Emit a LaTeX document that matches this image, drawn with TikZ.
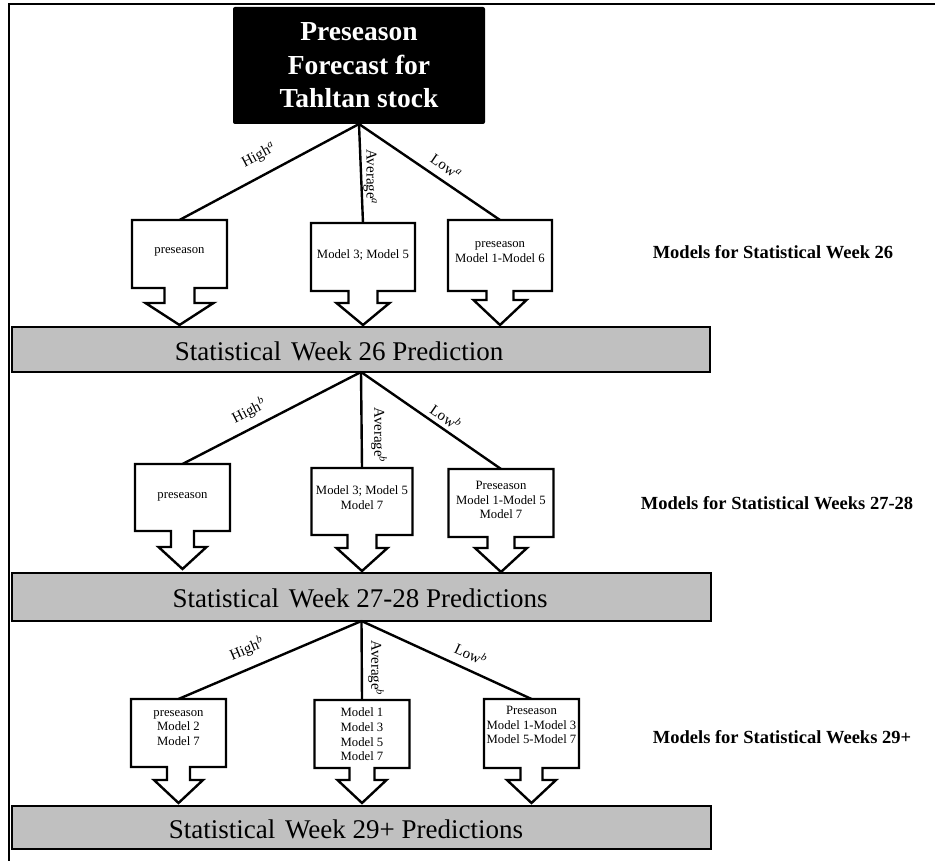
\documentclass[tikz,border=0pt]{standalone}
\usepackage{fontspec}
\setmainfont{Liberation Serif}
\usetikzlibrary{calc}
\definecolor{bargray}{RGB}{192,192,192}
\newcommand\callout[5]{%
  \draw[outline] (#1.south west) -- (#1.north west) -- (#1.north east) -- (#1.south east)
   -- ($(#1.south)+(#2pt,0pt)$) -- ($(#1.south)+(#2pt,-#4pt)$) -- ($(#1.south)+(#3pt,-#4pt)$)
   -- ($(#1.south)+(0pt,-#4pt-#5pt)$) -- ($(#1.south)+(-#3pt,-#4pt)$) -- ($(#1.south)+(-#2pt,-#4pt)$)
   -- ($(#1.south)+(-#2pt,0pt)$) -- cycle;}
\tikzset{
  outline/.style={line width=2.4pt, line join=miter, fill=white},
  conn/.style={line width=2.4pt},
  cbox/.style={rectangle, inner sep=0pt, outer sep=0pt, draw=none},
  ctext/.style={align=center, inner sep=0pt, font=\fontsize{12.7}{14.7}\selectfont},
  bar/.style={rectangle, draw, line width=2.4pt, fill=bargray, inner sep=0pt, outer sep=0pt},
  bartext/.style={inner sep=0pt, font=\fontsize{27}{30}\selectfont},
  lbl/.style={inner sep=0pt, font=\fontsize{15}{16}\selectfont},
  side/.style={inner sep=0pt, font=\fontsize{18.5}{20}\selectfont\bfseries},
}
\begin{document}
\begin{tikzpicture}[x=1pt,y=-1pt]
\useasboundingbox (0,0) rectangle (935,861);
% frame
\draw[line width=2pt] (8.5,861) -- (8.5,4) -- (935,4);
% top box
\node[rectangle, fill=black, rounded corners=2pt, inner sep=0pt, outer sep=0pt,
      minimum width=252pt, minimum height=117pt, text=white, align=center,
      font=\fontsize{27.5}{33.5}\selectfont\bfseries] (top) at (359,65.5)
      {Preseason\\Forecast for\\Tahltan stock};
% bars
\node[bar, minimum width=698pt, minimum height=45pt] (B1) at (361,349.5) {};
\node[bar, minimum width=699pt, minimum height=48pt] (B2) at (361.5,597) {};
\node[bar, minimum width=699pt, minimum height=43pt] (B3) at (361.5,827.5) {};
\node[bartext] (B1t) at (339,351) {Statistical\hspace{3pt} Week 26 Prediction};
\node[bartext] (B2t) at (360,598) {Statistical\hspace{3pt} Week 27-28 Predictions};
\node[bartext] (B3t) at (346,829) {Statistical\hspace{3pt} Week 29+ Predictions};
% row 1 boxes
\node[cbox, minimum width=95pt, minimum height=68pt] (L1) at (179.5,254) {};
\node[cbox, minimum width=104pt, minimum height=68pt] (M1) at (363,257) {};
\node[cbox, minimum width=104pt, minimum height=71pt] (R1) at (500,255.5) {};
% row 2 boxes
\node[cbox, minimum width=95pt, minimum height=67pt] (L2) at (182.5,497.5) {};
\node[cbox, minimum width=101pt, minimum height=67pt] (M2) at (362,501.5) {};
\node[cbox, minimum width=105pt, minimum height=68pt] (R2) at (501,503) {};
% row 3 boxes
\node[cbox, minimum width=95pt, minimum height=68pt] (L3) at (178.5,733) {};
\node[cbox, minimum width=95pt, minimum height=68pt] (M3) at (362,734) {};
\node[cbox, minimum width=95pt, minimum height=69pt] (R3) at (531.5,733.5) {};
% connectors
\draw[conn] (top.south) -- (L1.north);
\draw[conn] (top.south) -- (M1.north);
\draw[conn] (top.south) -- (R1.north);
\draw[conn] (B1.south) -- (L2.north);
\draw[conn] (B1.south) -- (M2.north);
\draw[conn] (B1.south) -- (R2.north);
\draw[conn] (B2.south) -- (L3.north);
\draw[conn] (B2.south) -- (M3.north);
\draw[conn] (B2.south) -- (R3.north);
% callout outlines
\callout{L1}{15}{34}{15}{22}
\callout{M1}{14.5}{26.5}{12}{22}
\callout{R1}{13.5}{26.5}{9}{25}
\callout{L2}{11.5}{24}{16}{22}
\callout{M2}{14.5}{25.5}{13}{23}
\callout{R2}{13.5}{26}{11}{24}
\callout{L3}{11.5}{24.5}{13}{23}
\callout{M3}{12.5}{24.5}{12}{23}
\callout{R3}{11}{24.5}{12}{23}
% callout texts
\node[ctext] (L1t) at (179.5,252) {preseason};
\node[ctext] (M1t) at (363,255) {Model 3; Model 5};
\node[ctext] (R1t) at (500,252) {preseason\\Model 1-Model 6};
\node[ctext] (L2t) at (182.5,497) {preseason};
\node[ctext] (M2t) at (362,498) {Model 3; Model 5\\Model 7};
\node[ctext] (R2t) at (501,500) {Preseason\\Model 1-Model 5\\Model 7};
\node[ctext] (L3t) at (178.5,728) {preseason\\Model 2\\Model 7};
\node[ctext] (M3t) at (362,734.5) {Model 1\\Model 3\\Model 5\\Model 7};
\node[ctext] (R3t) at (531.5,725) {Preseason\\Model 1-Model 3\\Model 5-Model 7};
% branch labels
\node[lbl, rotate=28] (h1) at (259,156) {High\textsuperscript{\textit{a}}};
\node[lbl, rotate=-90] (a1) at (370,177) {Average\textsuperscript{\textit{a}}};
\node[lbl, rotate=-34.5] (w1) at (446,167) {Low\textsuperscript{\textit{a}}};
\node[lbl, rotate=27] (h2) at (249,411) {High\textsuperscript{\textit{b}}};
\node[lbl, rotate=-90] (a2) at (379,435) {Average\textsuperscript{\textit{b}}};
\node[lbl, rotate=-34.5] (w2) at (446,417) {Low\textsuperscript{\textit{b}}};
\node[lbl, rotate=23] (h3) at (247,649) {High\textsuperscript{\textit{b}}};
\node[lbl, rotate=-90] (a3) at (376,668) {Average\textsuperscript{\textit{b}}};
\node[lbl, rotate=-24.6] (w3) at (471,654) {Low\textsuperscript{\textit{b}}};
% side labels
\node[side] (s1) at (773,252) {Models for Statistical Week 26};
\node[side] (s2) at (777,503) {Models for Statistical Weeks 27-28};
\node[side] (s3) at (782,737) {Models for Statistical Weeks 29+};
\end{tikzpicture}
\end{document}
